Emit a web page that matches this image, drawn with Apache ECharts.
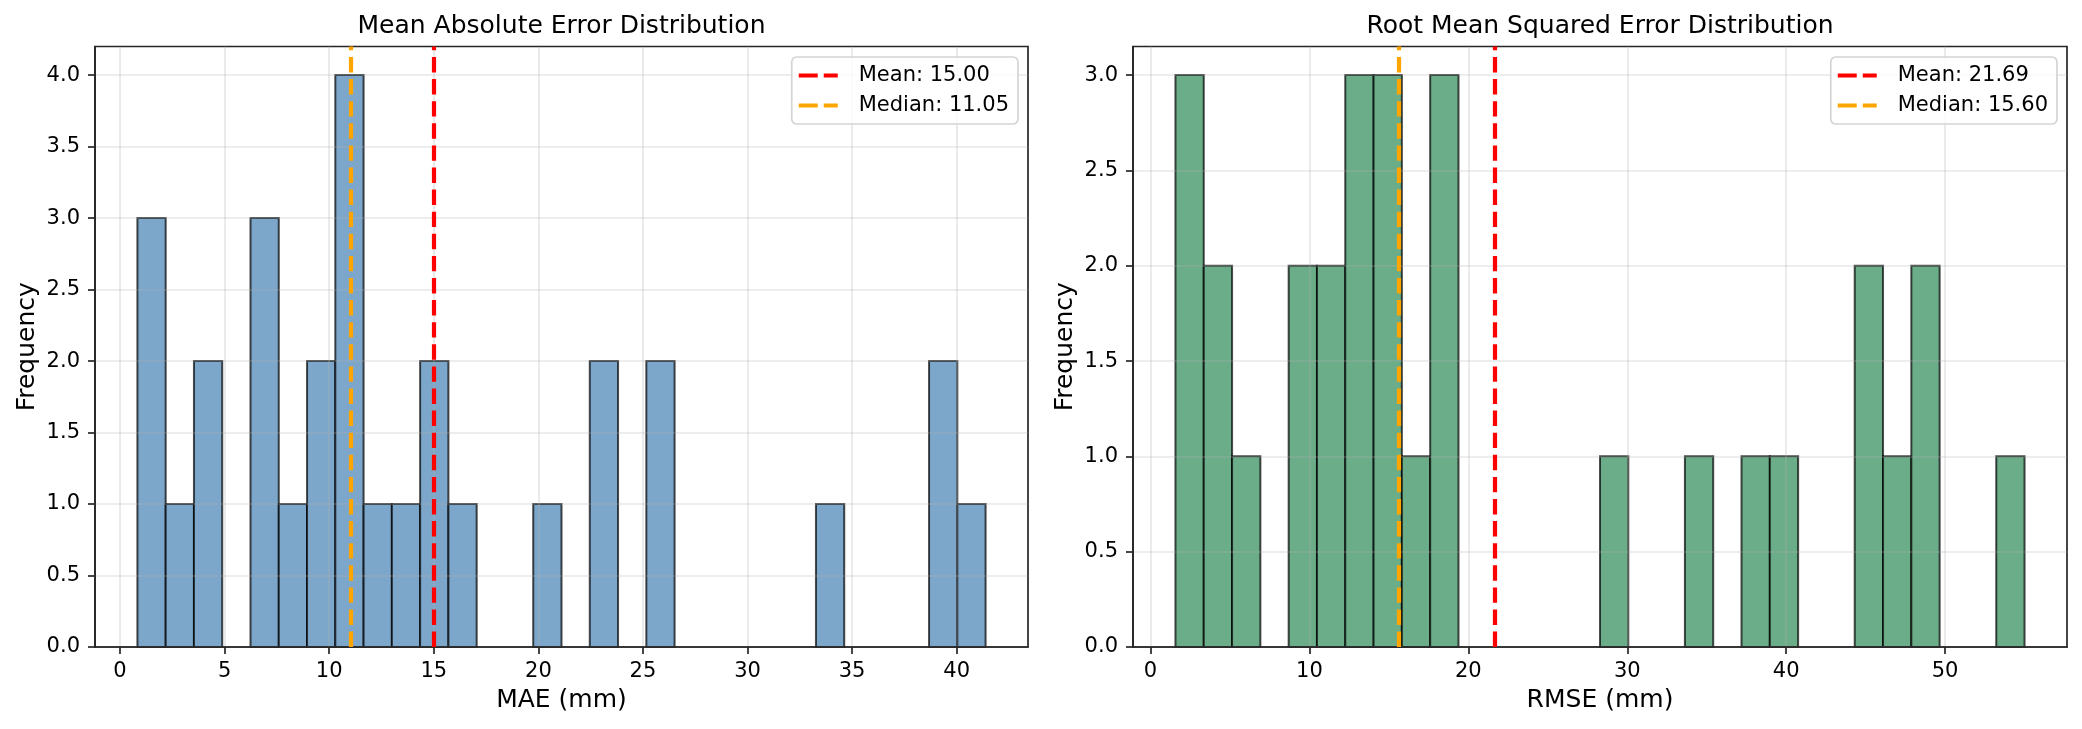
<!DOCTYPE html>
<html><head><meta charset="utf-8">
<script src="https://cdn.jsdelivr.net/npm/echarts@6/dist/echarts.min.js"></script>
<style>html,body{margin:0;padding:0;background:#fff}#c{width:2082px;height:729px}</style>
</head><body><div id="c"></div>
<script>
// ---- data ----
const maeBinStart = 0.83;
const maeBinWidth = 1.3517;
const maeCounts = [3,1,2,0,3,1,2,4,1,1,2,1,0,0,1,0,2,0,2,0,0,0,0,0,1,0,0,0,2,1];
const maeMean = 15.00;
const maeMedian = 11.05;

const rmseBinStart = 1.57;
const rmseBinWidth = 1.781;
const rmseCounts = [3,2,1,0,2,2,3,3,1,3,0,0,0,0,0,1,0,0,1,0,1,1,0,0,2,1,2,0,0,1];
const rmseMean = 21.69;
const rmseMedian = 15.60;

const maeXTicks = [0,5,10,15,20,25,30,35,40];
const rmseXTicks = [0,10,20,30,40,50];
const maeYTicks = [0,0.5,1,1.5,2,2.5,3,3.5,4];
const rmseYTicks = [0,0.5,1,1.5,2,2.5,3];

const titles = ['Mean Absolute Error Distribution', 'Root Mean Squared Error Distribution'];
const xNames = ['MAE (mm)', 'RMSE (mm)'];
const yName = 'Frequency';

// ---- helpers ----
const F = 'DejaVu Sans';
const AX = '#262626';
function bins(start, w, counts) {
  return counts.map((c, i) => [start + i * w, start + (i + 1) * w, c]);
}
function xExtent(start, w, n) {
  const lo = start, hi = start + n * w, m = 0.05 * (hi - lo);
  return [lo - m, hi + m];
}
const maeBins = bins(maeBinStart, maeBinWidth, maeCounts);
const rmseBins = bins(rmseBinStart, rmseBinWidth, rmseCounts);
const maeExt = xExtent(maeBinStart, maeBinWidth, maeCounts.length);
const rmseExt = xExtent(rmseBinStart, rmseBinWidth, rmseCounts.length);

const grids = [
  {left: 95, top: 46.5, width: 933, height: 600.5},
  {left: 1133, top: 46.5, width: 934, height: 600.5}
];

function xAxisCfg(idx, ext, ticks, name) {
  return {
    type: 'value', gridIndex: idx, min: ext[0], max: ext[1], z: 3,
    name: name, nameLocation: 'middle', nameGap: 41,
    nameTextStyle: {fontFamily: F, fontSize: 25, color: '#000'},
    axisLine: {show: true, onZero: false, lineStyle: {color: AX, width: 1.7}},
    axisTick: {show: true, length: 7, customValues: ticks, lineStyle: {color: AX, width: 1.7}},
    axisLabel: {customValues: ticks, margin: 14, fontFamily: F, fontSize: 21, color: '#000', formatter: v => String(v)},
    splitLine: {show: true, lineStyle: {color: 'rgba(176,176,176,0.3)', width: 1.7}}
  };
}
function yAxisCfg(idx, counts, ticks) {
  return {
    type: 'value', gridIndex: idx, min: 0, max: Math.max(...counts) * 1.05, z: 3,
    name: yName, nameLocation: 'middle', nameGap: 55,
    nameTextStyle: {fontFamily: F, fontSize: 25, color: '#000'},
    axisLine: {show: true, onZero: false, lineStyle: {color: AX, width: 1.7}},
    axisTick: {show: true, length: 7, customValues: ticks, lineStyle: {color: AX, width: 1.7}},
    axisLabel: {customValues: ticks, margin: 15, fontFamily: F, fontSize: 21, color: '#000', formatter: v => v.toFixed(1)},
    splitLine: {show: true, lineStyle: {color: 'rgba(176,176,176,0.3)', width: 1.7}}
  };
}
function histSeries(idx, data, fill) {
  return {
    type: 'custom', xAxisIndex: idx, yAxisIndex: idx, z: 2, silent: true, animation: false,
    data: data, encode: {x: [0, 1], y: 2},
    renderItem(params, api) {
      if (api.value(2) === 0) return null;
      const p0 = api.coord([api.value(0), api.value(2)]);
      const p1 = api.coord([api.value(1), 0]);
      return {type: 'rect', shape: {x: p0[0], y: p0[1], width: p1[0] - p0[0], height: p1[1] - p0[1]},
        style: {fill: fill, stroke: 'rgba(0,0,0,0.7)', lineWidth: 2}};
    }
  };
}
const DASH = [15.4, 6.7];
const DASH_ICON = 'path://M0,0H19V4.2H0Z M25,0H39V4.2H25Z';
function vline(name, idx, value, color) {
  return {
    type: 'line', name: name, xAxisIndex: idx, yAxisIndex: idx, data: [], symbol: 'none', z: 5,
    animation: false,
    lineStyle: {color: color, width: 4.2, type: DASH}, itemStyle: {color: color},
    markLine: {silent: true, symbol: ['none', 'none'], label: {show: false}, animation: false,
      lineStyle: {color: color, width: 4.2, type: DASH}, data: [{xAxis: value}]}
  };
}
function legendCfg(names, right) {
  return {
    data: names.map(n => ({name: n, icon: DASH_ICON})),
    orient: 'vertical', right: right, top: 57, z: 10,
    padding: [6, 9, 6, 7], itemWidth: 39, itemHeight: 4.2, itemGap: 5,
    itemStyle: {borderWidth: 0}, lineStyle: {width: 0},
    backgroundColor: 'rgba(255,255,255,0.8)', borderColor: '#d4d4d4', borderWidth: 1.7, borderRadius: 5,
    selectedMode: false,
    textStyle: {fontFamily: F, fontSize: 21, color: '#000', padding: [0, 0, 0, 16], lineHeight: 25}
  };
}
const meanNames = ['Mean: ' + maeMean.toFixed(2), 'Mean: ' + rmseMean.toFixed(2)];
const medNames = ['Median: ' + maeMedian.toFixed(2), 'Median: ' + rmseMedian.toFixed(2)];

const chart = echarts.init(document.getElementById('c'), null, {renderer: 'canvas'});
chart.setOption({
  backgroundColor: '#fff',
  animation: false,
  textStyle: {fontFamily: F},
  title: grids.map((g, i) => ({
    text: titles[i], left: g.left + g.width / 2, top: 14, padding: 0, textAlign: 'center',
    textStyle: {fontFamily: F, fontSize: 25, fontWeight: 'normal', color: '#000'}
  })),
  grid: grids.map(g => Object.assign({show: true, borderColor: AX, borderWidth: 1.7, backgroundColor: 'transparent', containLabel: false}, g)),
  xAxis: [xAxisCfg(0, maeExt, maeXTicks, xNames[0]), xAxisCfg(1, rmseExt, rmseXTicks, xNames[1])],
  yAxis: [yAxisCfg(0, maeCounts, maeYTicks), yAxisCfg(1, rmseCounts, rmseYTicks)],
  legend: [legendCfg([meanNames[0], medNames[0]], 2082 - 1018), legendCfg([meanNames[1], medNames[1]], 2082 - 2057)],
  series: [
    histSeries(0, maeBins, 'rgb(125,167,202)'),
    histSeries(1, rmseBins, 'rgb(108,173,137)'),
    vline(meanNames[0], 0, maeMean, '#ff0000'),
    vline(medNames[0], 0, maeMedian, '#ffa500'),
    vline(meanNames[1], 1, rmseMean, '#ff0000'),
    vline(medNames[1], 1, rmseMedian, '#ffa500')
  ]
});
</script></body></html>
